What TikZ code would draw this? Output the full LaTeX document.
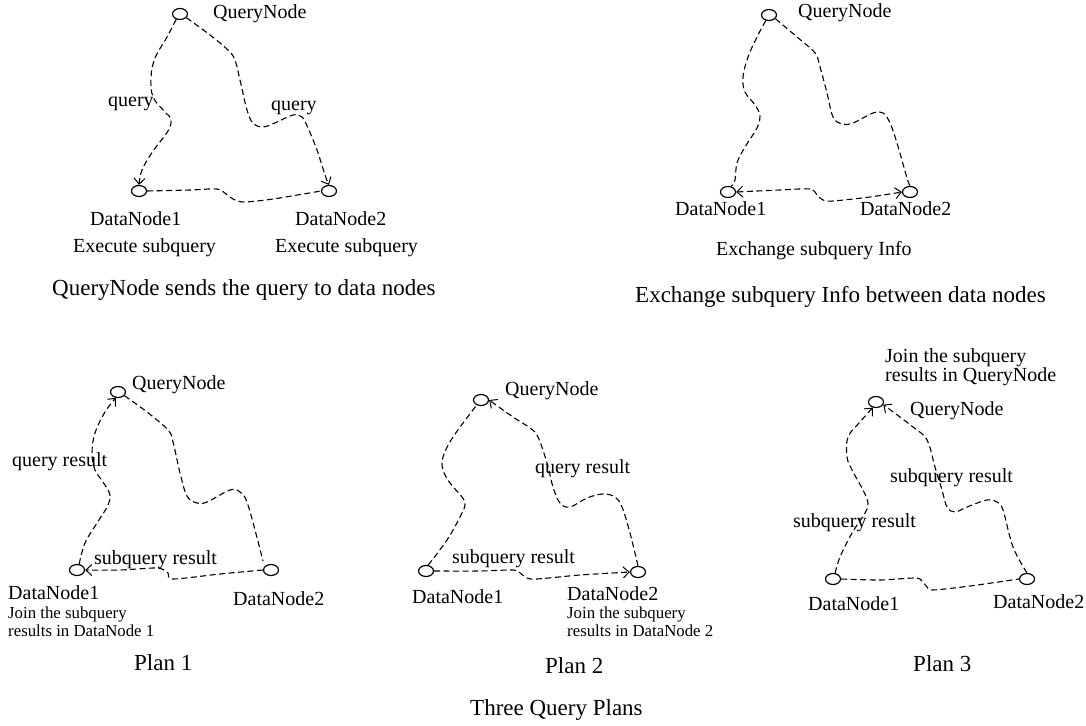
\documentclass[tikz,border=0pt]{standalone}
\usepackage{fontspec}
\setmainfont{Liberation Serif}
\usetikzlibrary{shapes.geometric,arrows.meta}
\tikzset{
  dnode/.style={draw, ellipse, line width=1.2pt, minimum width=15pt, minimum height=11pt, inner sep=0pt},
  conn/.style={line width=1.1pt, dash pattern=on 6pt off 3.5pt},
  tip/.style={-{Straight Barb[length=6pt,width=11pt,line width=1pt]}},
  bitip/.style={{Straight Barb[length=6pt,width=11pt,line width=1pt]}-{Straight Barb[length=6pt,width=11pt,line width=1pt]}},
  lbl/.style={font=\fontsize{20}{24}\selectfont, anchor=base west, inner sep=0pt},
  smalllbl/.style={font=\fontsize{16.8}{20}\selectfont, anchor=base west, inner sep=0pt},
  caplbl/.style={font=\fontsize{23}{27}\selectfont, anchor=base west, inner sep=0pt},
}
\begin{document}
\begin{tikzpicture}[x=1pt,y=-1pt]
\useasboundingbox[fill=white] (0,0) rectangle (1086,725);

% ---------- Panel 1 ----------
\node[dnode] (qa) at (180,14) {};
\node[dnode] (da1) at (139,191) {};
\node[dnode] (da2) at (329,191) {};
\draw[conn,tip] plot[smooth,tension=0.6] coordinates {(qa.235) (167,37) (155,58) (151,77) (153,97) (165,112) (171,119) (168,131) (153,151) (142,170) (da1.north)};
\draw[conn,tip] plot[smooth,tension=0.6] coordinates {(qa.-30) (210,35) (228,50) (235,60) (240,80) (247,110) (253,123) (263,127) (277,122) (293,115) (302,117) (308,128) (317,150) (325,175) (da2.north)};
\draw[conn] plot[smooth,tension=0.5] coordinates {(da1.east) (190,190) (217,189) (226,194) (233,199) (244,202) (273,199) (da2.west)};
\node[lbl] (ta) at (213,19) {QueryNode};
\node[lbl] (qla) at (108,106) {query};
\node[lbl] (qlb) at (271,110) {query};
\node[lbl] (tda1) at (90,225) {DataNode1};
\node[lbl] (exa) at (73,252) {Execute subquery};
\node[lbl] (tda2) at (295,225) {DataNode2};
\node[lbl] (exb) at (275,252) {Execute subquery};
\node[caplbl] (capa) at (52,295) {QueryNode sends the query to data nodes};

% ---------- Panel 2 ----------
\node[dnode] (qb) at (769,15) {};
\node[dnode] (db1) at (728,192) {};
\node[dnode] (db2) at (910,192) {};
\draw[conn] plot[smooth,tension=0.6] coordinates {(qb.240) (757,37) (748,57) (743,77) (745,92) (755,105) (760,116) (757,128) (745,147) (737,163) (735,180) (db1.60)};
\draw[conn] plot[smooth,tension=0.6] coordinates {(qb.-30) (797,37) (815,53) (820,67) (827,93) (833,117) (842,124) (853,123) (873,113) (883,113) (890,123) (897,143) (907,178) (db2.north)};
\draw[conn,bitip] plot[smooth,tension=0.5] coordinates {(db1.east) (780,190) (810,189) (817,195) (823,200) (833,201) (870,197) (db2.west)};
\node[lbl] (tb) at (798,18) {QueryNode};
\node[lbl] (tdb1) at (675,215) {DataNode1};
\node[lbl] (tdb2) at (860,215) {DataNode2};
\node[lbl] (exc) at (716,255) {Exchange subquery Info};
\node[caplbl] (capb) at (635,302) {Exchange subquery Info between data nodes};

% ---------- Plan 1 ----------
\node[dnode] (qc) at (118,392) {};
\node[dnode] (dc1) at (77,570) {};
\node[dnode] (dc2) at (271,570) {};
\draw[conn,tip] plot[smooth,tension=0.6] coordinates {(dc1.70) (85,543) (97,523) (107,507) (110,495) (103,482) (95,470) (92,453) (95,433) (105,412) (qc.-110)};
\draw[conn] plot[smooth,tension=0.6] coordinates {(qc.-30) (147,412) (168,430) (173,442) (180,473) (187,496) (197,503) (207,502) (230,490) (240,492) (248,505) (263,561)};
\draw[conn,tip] plot[smooth,tension=0.5] coordinates {(dc2.west) (220,574) (173,579) (168,573) (162,569) (153,568) (120,570) (dc1.east)};
\node[lbl] (tc) at (132,389) {QueryNode};
\node[lbl] (qrc) at (12,466) {query result};
\node[lbl] (src) at (94,564) {subquery result};
\node[lbl] (tdc1) at (8,599) {DataNode1};
\node[smalllbl] (jc1) at (8,618) {Join the subquery};
\node[smalllbl] (jc2) at (8,636) {results in DataNode 1};
\node[lbl] (tdc2) at (233,605) {DataNode2};
\node[caplbl] (p1) at (134,670) {Plan 1};

% ---------- Plan 2 ----------
\node[dnode] (qd) at (481,400) {};
\node[dnode] (dd1) at (426,571) {};
\node[dnode] (dd2) at (638,572) {};
\draw[conn] plot[smooth,tension=0.6] coordinates {(dd1.70) (447,540) (460,517) (465,505) (462,497) (450,483) (443,470) (443,457) (453,437) (qd.-130)};
\draw[conn,tip] plot[smooth,tension=0.6] coordinates {(dd2.north) (630,533) (622,507) (615,497) (603,494) (587,498) (570,507) (560,503) (553,487) (547,463) (538,437) (530,428) (513,417) (qd.east)};
\draw[conn,tip] plot[smooth,tension=0.5] coordinates {(dd1.east) (480,571) (513,570) (520,573) (527,578) (537,579) (580,575) (dd2.west)};
\node[lbl] (td) at (505,395) {QueryNode};
\node[lbl] (qrd) at (535,473) {query result};
\node[lbl] (srd) at (452,563) {subquery result};
\node[lbl] (tdd1) at (412,603) {DataNode1};
\node[lbl] (tdd2) at (567,600) {DataNode2};
\node[smalllbl] (jd1) at (567,618) {Join the subquery};
\node[smalllbl] (jd2) at (567,636) {results in DataNode 2};
\node[caplbl] (p2) at (545,673) {Plan 2};

% ---------- Plan 3 ----------
\node[dnode] (qe) at (876,402) {};
\node[dnode] (de1) at (833,579) {};
\node[dnode] (de2) at (1027,579) {};
\draw[conn,tip] plot[smooth,tension=0.6] coordinates {(de1.70) (840,557) (852,533) (865,513) (868,503) (863,490) (852,470) (847,457) (848,437) (860,422) (qe.-120)};
\draw[conn,tip] plot[smooth,tension=0.6] coordinates {(de2.north) (1013,547) (1003,510) (997,502) (987,500) (967,507) (955,512) (947,507) (942,490) (935,467) (927,440) (913,427) (qe.-20)};
\draw[conn] plot[smooth,tension=0.5] coordinates {(de1.east) (880,580) (915,578) (922,581) (927,587) (933,590) (970,586) (de2.west)};
\node[lbl] (je1) at (885,362) {Join the subquery};
\node[lbl] (je2) at (885,381) {results in QueryNode};
\node[lbl] (te) at (910,415) {QueryNode};
\node[lbl] (sre1) at (890,482) {subquery result};
\node[lbl] (sre2) at (793,527) {subquery result};
\node[lbl] (tde1) at (808,610) {DataNode1};
\node[lbl] (tde2) at (993,608) {DataNode2};
\node[caplbl] (p3) at (913,671) {Plan 3};

\node[caplbl] (cap3) at (470,715) {Three Query Plans};
\end{tikzpicture}
\end{document}
